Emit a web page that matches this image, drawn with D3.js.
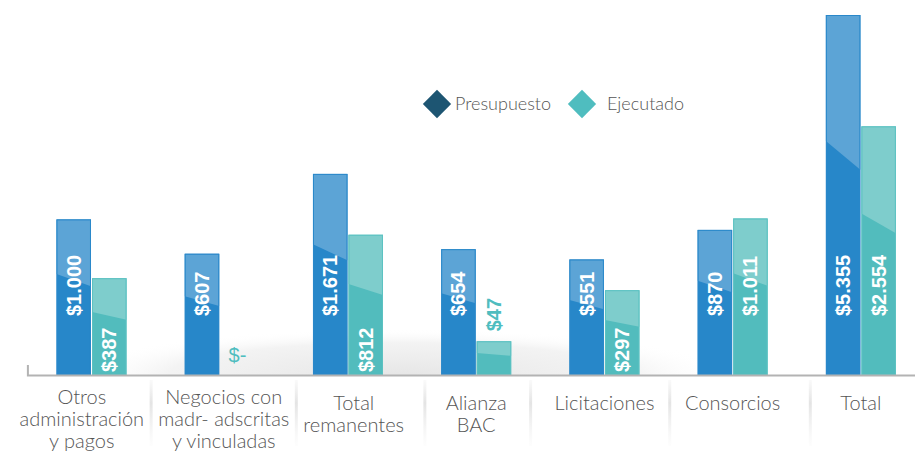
<!DOCTYPE html>
<html>
<head>
<meta charset="utf-8">
<script src="https://cdn.jsdelivr.net/npm/d3@7"></script>
<style>
  html, body { margin: 0; padding: 0; background: #fff; }
  svg { display: block; }
</style>
</head>
<body>
<svg id="chart" width="915" height="454"></svg>
<script>
// Categories (line breaks mark the wrapped axis labels)
const categories = [
  "Otros\nadministración\ny pagos",
  "Negocios con\nmadr- adscritas\ny vinculadas",
  "Total\nremanentes",
  "Alianza\nBAC",
  "Licitaciones",
  "Consorcios",
  "Total"
];
const seriesNames = ["Presupuesto", "Ejecutado"];
const presupuesto = [1000, 607, 1671, 654, 551, 870, 5355];
const ejecutado   = [387, 0, 812, 47, 297, 1011, 2554];

const colors = {
  Presupuesto: { dark: "#2787c9", light: "#5ca4d6", edge: "#2a88ca", legend: "#1d5572" },
  Ejecutado:   { dark: "#52bcbd", light: "#7ecdcc", edge: "#5cc2c2", legend: "#4fbdbf" }
};

const W = 915, H = 454;
const baseY = 375;
const svg = d3.select("#chart");

const locale = d3.formatLocale({ decimal: ",", thousands: ".", grouping: [3], currency: ["$", ""] });
const fmt = v => v === 0 ? "$-" : locale.format("$,.0f")(v);

const rows = categories.map((c, i) => ({
  cat: c,
  values: [
    { series: "Presupuesto", value: presupuesto[i], cat: c },
    { series: "Ejecutado", value: ejecutado[i], cat: c }
  ]
}));

const x0 = d3.scaleBand().domain(categories).range([27.4, 925]).paddingInner(0).paddingOuter(0);
const bw = x0.bandwidth();
const x1 = d3.scaleBand().domain(seriesNames).range([bw / 2 - 35, bw / 2 + 35]).paddingInner(0.03);
const y = d3.scaleSqrt()
  .domain([0, d3.max(presupuesto.concat(ejecutado))])
  .range([baseY, 15]);

const defs = svg.append("defs");

// soft floor shading behind the bars
const floor = defs.append("radialGradient").attr("id", "floor")
  .attr("gradientUnits", "userSpaceOnUse")
  .attr("cx", 400).attr("cy", baseY).attr("r", 330)
  .attr("gradientTransform", `translate(400 ${baseY}) scale(1 0.14) translate(-400 ${-baseY})`);
floor.append("stop").attr("offset", "0%").attr("stop-color", "#e6e6e6").attr("stop-opacity", 1);
floor.append("stop").attr("offset", "70%").attr("stop-color", "#f0f0f0").attr("stop-opacity", 0.8);
floor.append("stop").attr("offset", "100%").attr("stop-color", "#ffffff").attr("stop-opacity", 0);
svg.append("rect").attr("x", 60).attr("y", baseY - 50).attr("width", 720).attr("height", 50)
  .attr("fill", "url(#floor)");

const sepLayer = svg.append("g");

// bars
const groups = svg.append("g").selectAll("g")
  .data(rows)
  .join("g")
  .attr("transform", d => `translate(${x0(d.cat)},0)`);

const bars = groups.selectAll("g.bar")
  .data(d => d.values.filter(v => v.value > 0))
  .join("g").attr("class", "bar");

bars.append("rect")
  .attr("x", d => x1(d.series))
  .attr("y", d => y(d.value))
  .attr("width", x1.bandwidth())
  .attr("height", d => baseY - y(d.value))
  .attr("fill", d => colors[d.series].dark);

// lighter glossy top with a slanted lower edge
bars.append("path")
  .attr("d", d => {
    const xl = x1(d.series), xr = xl + x1.bandwidth();
    const top = y(d.value), h = baseY - top;
    return `M${xl},${top}H${xr}V${top + 0.43 * h}L${xl},${top + 0.35 * h}Z`;
  })
  .attr("fill", d => colors[d.series].light);

bars.append("rect")
  .attr("x", d => x1(d.series) + 0.5)
  .attr("y", d => y(d.value) + 0.5)
  .attr("width", x1.bandwidth() - 1)
  .attr("height", d => baseY - y(d.value) - 0.5)
  .attr("fill", "none")
  .attr("stroke", d => colors[d.series].edge)
  .attr("stroke-width", 1);

// value labels
const labelFont = "'Liberation Sans', Arial, sans-serif";
groups.each(function (row) {
  const g = d3.select(this);
  row.values.forEach(d => {
    const cx = x1(d.series) + x1.bandwidth() / 2;
    if (d.value === 0) {
      g.append("text")
        .attr("x", cx).attr("y", baseY - 13)
        .attr("text-anchor", "middle")
        .attr("font-family", labelFont).attr("font-size", 20)
        .attr("fill", colors.Ejecutado.legend)
        .text(fmt(d.value));
      return;
    }
    const t = g.append("text")
      .attr("font-family", labelFont).attr("font-size", 20).attr("font-weight", "bold")
      .attr("text-anchor", "start")
      .text(fmt(d.value));
    const len = t.node().getComputedTextLength();
    const h = baseY - y(d.value);
    let start, fill = "#ffffff";
    if (d.series === "Presupuesto" || h >= 150) {
      start = baseY - 59;
    } else if (h >= len + 8) {
      start = baseY - 3;
    } else {
      start = y(d.value) - 10;
      fill = colors.Ejecutado.legend;
    }
    t.attr("fill", fill)
      .attr("transform", `translate(${cx + 7},${start}) rotate(-90)`);
  });
});

// category axis
const axis = svg.append("g")
  .attr("transform", `translate(0,${baseY})`)
  .call(d3.axisBottom(x0).tickSize(0).tickSizeOuter(-10).tickPadding(0));
axis.select(".domain").attr("stroke", "#b3b3b3").attr("stroke-width", 2);

const tickInfo = [];
axis.selectAll(".tick text").each(function (d) {
  const lines = d.split("\n");
  const t = d3.select(this)
    .text(null)
    .attr("font-family", "Lato, 'Open Sans', sans-serif")
    .attr("font-weight", 300)
    .attr("font-size", 20)
    .attr("fill", "#555")
    .attr("dy", null)
    .attr("y", lines.length > 2 ? 29 : 35);
  lines.forEach((ln, i) => {
    t.append("tspan").attr("x", 0).attr("dy", i === 0 ? 0 : 22).text(ln);
  });
  const w = d3.max(t.selectAll("tspan").nodes(), n => n.getComputedTextLength());
  tickInfo.push({ node: this, center: x0(d) + bw / 2, shift: 0, w });
});

// spread wide labels apart so neighbouring captions keep a small gap
const gap = 14;
for (let iter = 0; iter < 60; iter++) {
  for (let i = 1; i < tickInfo.length; i++) {
    const a = tickInfo[i - 1], b = tickInfo[i];
    const aRight = a.center + a.shift + a.w / 2;
    const bLeft = b.center + b.shift - b.w / 2;
    const over = aRight + gap - bLeft;
    if (over > 0.01) { a.shift -= over / 2; b.shift += over / 2; }
  }
}
tickInfo.forEach(ti => d3.select(ti.node).attr("x", ti.shift).selectAll("tspan").attr("x", ti.shift));

// faint separators halfway between neighbouring captions
const sepPos = d3.pairs(tickInfo).map(([a, b]) =>
  ((a.center + a.shift + a.w / 2) + (b.center + b.shift - b.w / 2)) / 2);
const sep = defs.append("linearGradient").attr("id", "sep")
  .attr("gradientUnits", "userSpaceOnUse").attr("x1", 0).attr("x2", 0).attr("y1", 380).attr("y2", 446);
sep.append("stop").attr("offset", "0%").attr("stop-color", "#e6e6e6").attr("stop-opacity", 0.2);
sep.append("stop").attr("offset", "35%").attr("stop-color", "#e4e4e4").attr("stop-opacity", 1);
sep.append("stop").attr("offset", "100%").attr("stop-color", "#eeeeee").attr("stop-opacity", 0.1);
sepLayer.selectAll("line")
  .data(sepPos)
  .join("line")
  .attr("x1", d => d).attr("x2", d => d)
  .attr("y1", 380).attr("y2", 446)
  .attr("stroke", "url(#sep)").attr("stroke-width", 3);

// legend
const legend = svg.append("g");
const legendItems = [
  { name: "Presupuesto", cx: 437, tx: 455 },
  { name: "Ejecutado", cx: 582, tx: 607 }
];
legend.selectAll("path")
  .data(legendItems)
  .join("path")
  .attr("d", d3.symbol(d3.symbolSquare, 400)())
  .attr("transform", d => `translate(${d.cx},104) rotate(45)`)
  .attr("fill", d => colors[d.name].legend);
legend.selectAll("text")
  .data(legendItems)
  .join("text")
  .attr("x", d => d.tx).attr("y", 110)
  .attr("font-family", "Lato, 'Open Sans', sans-serif")
  .attr("font-weight", 300)
  .attr("font-size", 18)
  .attr("fill", "#555")
  .text(d => d.name);
</script>
</body>
</html>
